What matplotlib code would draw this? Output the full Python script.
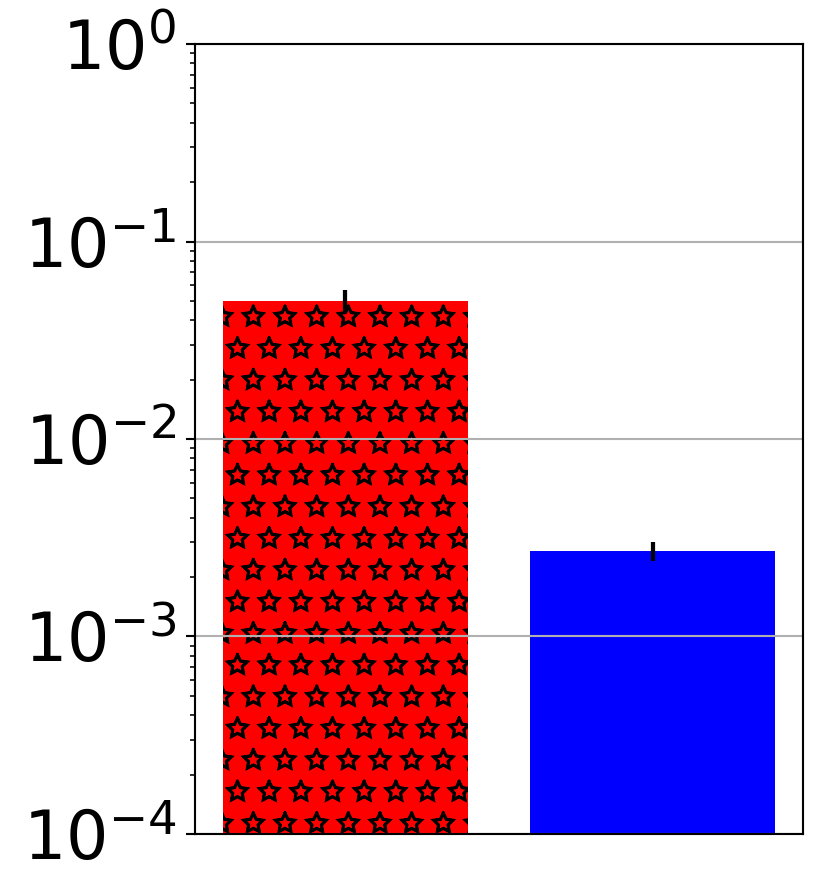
import matplotlib
matplotlib.use('Agg')
import matplotlib.pyplot as plt
import matplotlib.hatch as mhatch

# the reference shows hollow stars in the hatch
mhatch.Stars.filled = False

# bar heights and error sizes
positions = [0, 1]
heights = [0.05, 0.0027]
errors = [0.0067, 0.0003]
colors = ['red', 'blue']
hatches = ['*', '']

DPI = 190
fig = plt.figure(figsize=(831 / DPI, 893 / DPI), dpi=DPI)
ax = fig.add_axes([0.2347, 0.0661, 0.7316, 0.8846])

bars = ax.bar(positions, heights, yerr=errors, color=colors, width=0.8,
              error_kw=dict(ecolor='black', elinewidth=1.6))
for bar, h in zip(bars, hatches):
    bar.set_hatch(h)

ax.set_yscale('log')
ax.set_ylim(1e-4, 1)
ax.set_xticks([])
ax.yaxis.grid(True, which='major')
ax.tick_params(axis='y', labelsize=25.3)

fig.savefig('out.png', dpi=DPI)
